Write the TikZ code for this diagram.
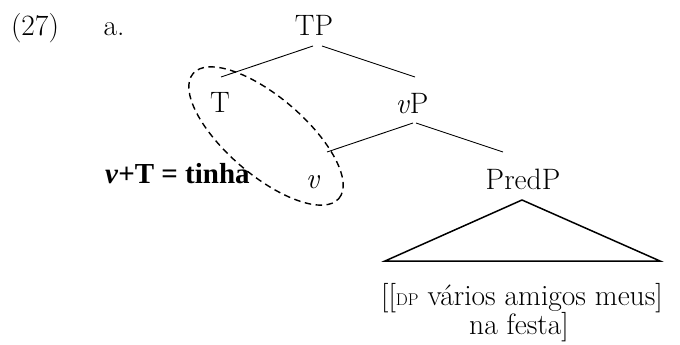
\documentclass[tikz,border=0pt]{standalone}
\usepackage{fontspec}
\newfontfamily\labfont{Liberation Serif}
\begin{document}
\begin{tikzpicture}[x=1pt,y=-1pt,
  every node/.style={font=\fontsize{29.5}{34}\selectfont, inner sep=0pt, anchor=base},
  branch/.style={line width=0.9pt},
  roof/.style={line width=1.5pt, line join=miter},
  ring/.style={line width=1.4pt, dash pattern=on 6.5pt off 4.5pt}]
\useasboundingbox (0,0) rectangle (680,345);
% labels
\node (ex) at (35,36) {(27)};
\node (sub) at (114,36) {a.};
% tree nodes
\node (TP) at (314,36) {TP};
\node (T) at (220,112) {T};
\node (vP) at (412,113) {\textit{v}P};
\node (v) at (313,188) {\textit{v}};
\node (PredP) at (523,189) {PredP};
\node (l1) at (522,305) {[[{\fontsize{17}{17}\selectfont DP} vários amigos meus]};
\node (l2) at (519,334) {na festa]};
\node[anchor=base west, font=\labfont\fontsize{29}{34}\selectfont\bfseries] (lab) at (105,183) {\textit{v}+T = tinha};
% branches
\draw[branch] ([shift={(-1,10)}]TP.base) -- ([shift={(1,-35)}]T.base);
\draw[branch] ([shift={(8,10)}]TP.base) -- ([shift={(3,-36)}]vP.base);
\draw[branch] ([shift={(1,10)}]vP.base) -- ([shift={(14,-36)}]v.base);
\draw[branch] ([shift={(4,10)}]vP.base) -- ([shift={(-20,-37)}]PredP.base);
% roof
\draw[roof] ([shift={(-1,11)}]PredP.base) -- ++(-137,61) -- ++(275,0) -- cycle;
% ellipse
\draw[ring, rotate around={-40.6:(266,136)}] (266,136) ellipse [x radius=96pt, y radius=39pt];
\end{tikzpicture}
\end{document}
